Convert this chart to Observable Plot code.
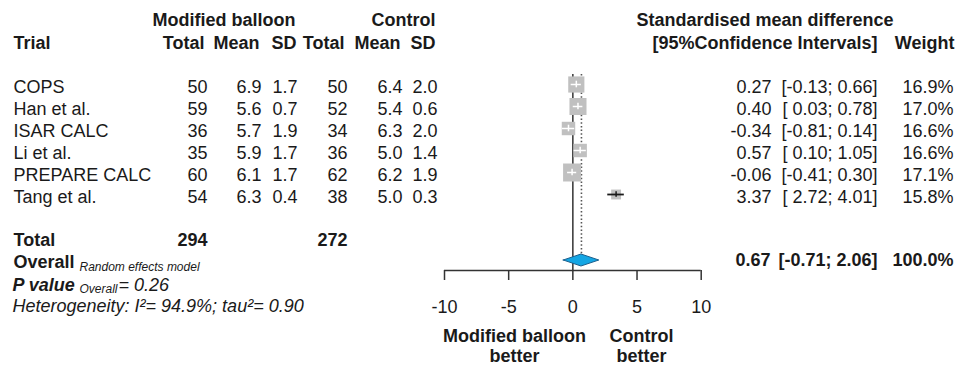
<!DOCTYPE html>
<html><head><meta charset="utf-8">
<script src="https://cdn.jsdelivr.net/npm/d3@7"></script>
<script src="https://cdn.jsdelivr.net/npm/@observablehq/plot@0.6"></script>
<style>
html,body{margin:0;padding:0;background:#fff;}
#chart svg{display:block;}
</style></head><body><div id="chart"></div>
<script>
// ---- data ----
const trials    = ["COPS", "Han et al.", "ISAR CALC", "Li et al.", "PREPARE CALC", "Tang et al."];
const expTotal  = [50, 59, 36, 35, 60, 54];
const expMean   = [6.9, 5.6, 5.7, 5.9, 6.1, 6.3];
const expSD     = [1.7, 0.7, 1.9, 1.7, 1.7, 0.4];
const ctrlTotal = [50, 52, 34, 36, 62, 38];
const ctrlMean  = [6.4, 5.4, 6.3, 5.0, 6.2, 5.0];
const ctrlSD    = [2.0, 0.6, 2.0, 1.4, 1.9, 0.3];
const smd       = [0.27, 0.40, -0.34, 0.57, -0.06, 3.37];
const ciLow     = [-0.13, 0.03, -0.81, 0.10, -0.41, 2.72];
const ciHigh    = [0.66, 0.78, 0.14, 1.05, 0.30, 4.01];
const weights   = [16.9, 17.0, 16.6, 16.6, 17.1, 15.8];
const groupTotals = [294, 272];
const overallEst = 0.67, overallLow = -0.71, overallHigh = 2.06, overallWeight = 100.0;
const pValue = 0.26, i2 = 94.9, tau2 = 0.90;
const xTicks = [-10, -5, 0, 5, 10];

// ---- layout constants ----
const W = 964, H = 367;
const FL = 444, FR = 700.7;          // frame left/right (px)
const pxPerUnit = (FR - FL) / 20;
const maxSide = 18;                  // largest square side (px)
const font = "'Liberation Sans', Arial, Helvetica, sans-serif";
const ink = "#1a1a1a";

const f2 = v => v.toFixed(2);
const ciText = (lo, hi) => `[${lo < 0 ? f2(lo) : " " + f2(lo)}; ${f2(hi)}]`;

const prec = ciLow.map((lo, i) => 3.92 / (ciHigh[i] - lo));
const maxPrec = d3.max(prec);
const rows = trials.map((t, i) => {
  const side = maxSide * prec[i] / maxPrec;
  return {
    i, trial: t,
    eT: String(expTotal[i]), eM: expMean[i].toFixed(1), eS: expSD[i].toFixed(1),
    cT: String(ctrlTotal[i]), cM: ctrlMean[i].toFixed(1), cS: ctrlSD[i].toFixed(1),
    est: smd[i], lo: ciLow[i], hi: ciHigh[i], prec: prec[i],
    smdT: f2(smd[i]), ciT: ciText(ciLow[i], ciHigh[i]), wT: weights[i].toFixed(1) + "%",
    inside: (ciHigh[i] - ciLow[i]) * pxPerUnit < side
  };
});

const overallRow = 8;
const axisRow = (270 - 84) / 22;
const dHalf = 6 / 22;

// column text in the table rows (y via scale)
const colText = (field, px, anchor, extra = {}) =>
  Plot.text(rows, {y: "i", text: field, frameAnchor: "left", dx: px - FL, dy: 2.5,
    textAnchor: anchor, lineAnchor: "middle", fontSize: 18, fill: ink, ...extra});

// free-standing label
const label = (txt, px, py, anchor, extra = {}) =>
  Plot.text([txt], {text: d => d, frameAnchor: "top-left", dx: px - FL, dy: py,
    textAnchor: anchor, lineAnchor: "middle", fontSize: 18, fill: ink, ...extra});
const B = {fontWeight: "bold"};
const I = {fontStyle: "italic"};

const diamond = [
  {x: overallLow, y1: overallRow, y2: overallRow},
  {x: overallEst, y1: overallRow - dHalf, y2: overallRow + dHalf},
  {x: overallHigh, y1: overallRow, y2: overallRow}
];

const chart = Plot.plot({
  width: W, height: H,
  marginLeft: FL, marginRight: W - FR, marginTop: 0, marginBottom: H - 270,
  style: {fontFamily: font, background: "white", overflow: "visible"},
  x: {domain: [-10, 10], axis: null, label: null},
  y: {domain: [0, 5], range: [84, 194], axis: null, label: null},
  r: {type: "linear", domain: [0, maxPrec], range: [0, maxSide / Math.sqrt(Math.PI)]},
  marks: [
    // headers
    label("Modified balloon", 295, 20, "end", B),
    label("Control", 435, 20, "end", B),
    label("Trial", 13, 43, "start", B),
    label("Total", 204, 43, "end", B),
    label("Mean", 259, 43, "end", B),
    label("SD", 296, 43, "end", B),
    label("Total", 344, 43, "end", B),
    label("Mean", 400, 43, "end", B),
    label("SD", 435, 43, "end", B),
    label("Standardised mean difference", 893, 20, "end", B),
    label("[95%Confidence Intervals]", 877, 43, "end", B),
    label("Weight", 954, 43, "end", B),

    // study rows text
    colText("trial", 13, "start"),
    colText("eT", 207, "end"),
    colText("eM", 261, "end"),
    colText("eS", 297, "end"),
    colText("cT", 347, "end"),
    colText("cM", 402, "end"),
    colText("cS", 437, "end"),
    colText("smdT", 771, "end"),
    colText("ciT", 877, "end", {style: "white-space:pre"}),
    colText("wT", 953, "end"),

    // totals / overall text
    label("Total", 13, 240, "start", B),
    label(String(groupTotals[0]), 207, 240, "end", B),
    label(String(groupTotals[1]), 347, 240, "end", B),
    label("Overall", 13, 262, "start", B),
    label("Random effects model", 79, 267, "start", {...I, fontSize: 12}),
    label(f2(overallEst), 770, 260, "end", B),
    label(ciText(overallLow, overallHigh), 877, 260, "end", B),
    label(overallWeight.toFixed(1) + "%", 953, 260, "end", B),
    label("P value", 12, 285, "start", {fontWeight: "bold", fontStyle: "italic"}),
    label("Overall", 79, 289, "start", {...I, fontSize: 12}),
    label("= " + f2(pValue), 118, 285, "start", I),
    label(`Heterogeneity: I²= ${i2.toFixed(1)}%; tau²= ${f2(tau2)}`, 12, 306, "start", I),

    // reference lines
    Plot.ruleX([0], {x: d => d, y1: -0.45, y2: axisRow, stroke: "#333", strokeWidth: 1.5}),
    Plot.ruleX([overallEst], {x: d => d, y1: -0.45, y2: overallRow - dHalf,
      stroke: "#555", strokeWidth: 1.6, strokeDasharray: "1.5,2.2"}),

    // squares and CIs
    Plot.dot(rows, {x: "est", y: "i", r: "prec", symbol: "square", fill: "#c0c0c0", stroke: null}),
    Plot.ruleY(rows.filter(d => d.inside), {y: "i", x1: "lo", x2: "hi", stroke: "white", strokeWidth: 1.5}),
    Plot.ruleX(rows.filter(d => d.inside), {x: "est", y1: d => d.i - 0.15, y2: d => d.i + 0.15, stroke: "white", strokeWidth: 1.5}),
    Plot.ruleY(rows.filter(d => !d.inside), {y: "i", x1: "lo", x2: "hi", stroke: ink, strokeWidth: 1.8}),
    Plot.ruleX(rows.filter(d => !d.inside), {x: "est", y1: d => d.i - 0.13, y2: d => d.i + 0.13, stroke: ink, strokeWidth: 1.5}),

    // overall diamond
    Plot.areaY(diamond, {x: "x", y1: "y1", y2: "y2", fill: "#14a6e4", stroke: "#1d5f8c", strokeWidth: 1}),

    // axis
    Plot.ruleY([axisRow], {y: d => d, x1: -10, x2: 10, stroke: "#333", strokeWidth: 1.5}),
    Plot.axisX({ticks: xTicks, anchor: "bottom", tickSize: 10, tickPadding: 20, label: null,
      tickFormat: d => String(d), fontSize: 18, stroke: "#333", strokeWidth: 1.5, fill: ink}),

    // direction labels
    Plot.text(["Modified balloon\nbetter"], {text: d => d, frameAnchor: "top-left", dx: 514 - FL, dy: 327,
      textAnchor: "middle", lineAnchor: "top", lineHeight: 1.13, fontSize: 18, fontWeight: "bold", fill: ink}),
    Plot.text(["Control\nbetter"], {text: d => d, frameAnchor: "top-left", dx: 641 - FL, dy: 327,
      textAnchor: "middle", lineAnchor: "top", lineHeight: 1.13, fontSize: 18, fontWeight: "bold", fill: ink})
  ]
});
document.getElementById("chart").appendChild(chart);
</script>
</body></html>
